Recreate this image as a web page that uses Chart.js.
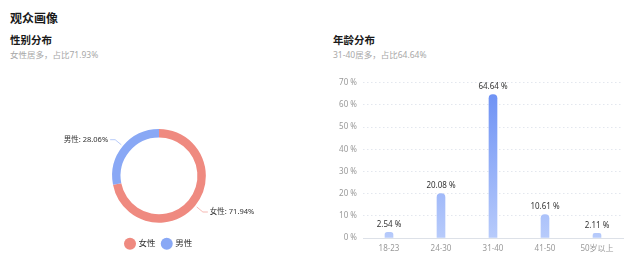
<!DOCTYPE html>
<html>
<head>
<meta charset="utf-8">
<script src="https://cdn.jsdelivr.net/npm/chart.js@4/dist/chart.umd.min.js"></script>
<style>
  body{ margin:0; width:640px; height:271px; background:#fff; overflow:hidden;
    font-family:"Noto Sans","Noto Sans CJK SC",sans-serif; position:relative }
  .t{ position:absolute; white-space:nowrap }
  .h1{ left:10px; top:9px; font-size:12px; font-weight:bold; color:#1a1a1a }
  .h2{ font-size:10.5px; font-weight:bold; color:#1a1a1a }
  .sub{ font-size:8.5px; color:#a8a8a8 }
  .box{ position:absolute }
</style>
</head>
<body>
<div class="t h1">观众画像</div>
<div class="t h2" style="left:10px;top:32px">性别分布</div>
<div class="t sub" style="left:10px;top:48px">女性居多，占比71.93%</div>
<div class="t h2" style="left:333px;top:32px">年龄分布</div>
<div class="t sub" style="left:333px;top:48px">31-40居多，占比64.64%</div>

<div class="box" style="left:0;top:115px;width:320px;height:152px"><canvas id="genderChart"></canvas></div>
<div class="box" style="left:320px;top:72px;width:320px;height:190px"><canvas id="ageChart"></canvas></div>

<script>
/* =========================
   DATA
========================= */
const genderLabels = ["女性", "男性"]
const genderValues = [71.94, 28.06]
const genderColors = ["#ef8a80", "#89a8f5"]

const ageLabels = ["18-23", "24-30", "31-40", "41-50", "50岁以上"]
const ageValues = [2.54, 20.08, 64.64, 10.61, 2.11]
const ageTicks = [0, 10, 20, 30, 40, 50, 60, 70]

const FONT = '"Noto Sans","Noto Sans CJK SC",sans-serif'

/* =========================
   DONUT OUTSIDE LABELS
========================= */
const outLabels = {
  id: "outLabels",
  afterDatasetsDraw(chart){
    const ctx = chart.ctx
    const meta = chart.getDatasetMeta(0)
    meta.data.forEach((arc, i) => {
      const p = arc.getProps(["x","y","startAngle","endAngle","outerRadius"], true)
      const mid = (p.startAngle + p.endAngle) / 2
      const cos = Math.cos(mid), sin = Math.sin(mid)
      const r1 = p.outerRadius + 2
      const r2 = p.outerRadius + 10
      const x1 = p.x + cos * r1, y1 = p.y + sin * r1
      const x2 = p.x + cos * r2, y2 = p.y + sin * r2
      const right = cos >= 0
      const x3 = x2 + (right ? 5 : -5)

      ctx.save()
      ctx.strokeStyle = genderColors[i]
      ctx.globalAlpha = 0.6
      ctx.lineWidth = 1
      ctx.beginPath()
      ctx.moveTo(x1, y1)
      ctx.lineTo(x2, y2)
      ctx.lineTo(x3, y2)
      ctx.stroke()
      ctx.globalAlpha = 1
      ctx.fillStyle = "#333"
      ctx.font = "7.5px " + FONT
      ctx.textBaseline = "middle"
      ctx.textAlign = right ? "left" : "right"
      ctx.fillText(genderLabels[i] + ": " + genderValues[i].toFixed(2) + "%", x3 + (right ? 2 : -2), y2)
      ctx.restore()
    })
  }
}

new Chart(document.getElementById("genderChart"), {
  type: "doughnut",
  data: {
    labels: genderLabels,
    datasets: [{
      data: genderValues,
      backgroundColor: genderColors,
      borderWidth: 0
    }]
  },
  options: {
    responsive: true,
    maintainAspectRatio: false,
    animation: false,
    cutout: "82%",
    layout: { padding: { top: 14, bottom: 9, right: 2 } },
    plugins: {
      tooltip: { enabled: false },
      legend: {
        position: "bottom",
        // empty title only adds space above the legend row
        title: { display: true, text: " ", font: { size: 4 }, padding: { top: 5, bottom: 0 } },
        labels: {
          usePointStyle: true,
          pointStyle: "circle",
          boxWidth: 9,
          boxHeight: 9,
          padding: 7,
          color: "#333",
          font: { size: 8.5, family: FONT }
        }
      }
    }
  },
  plugins: [outLabels]
})

/* =========================
   BAR VALUE LABELS
========================= */
const barLabels = {
  id: "barLabels",
  afterDatasetsDraw(chart){
    const ctx = chart.ctx
    chart.getDatasetMeta(0).data.forEach((bar, i) => {
      ctx.save()
      ctx.fillStyle = "#333"
      ctx.font = "8px " + FONT
      ctx.textAlign = "center"
      ctx.textBaseline = "bottom"
      ctx.fillText(ageValues[i].toFixed(2) + " %", bar.x, bar.y - 4)
      ctx.restore()
    })
  }
}

function barGradient(c){
  const area = c.chart.chartArea
  if(!area) return "#7b9cf6"
  const g = c.chart.ctx.createLinearGradient(0, area.top, 0, area.bottom)
  g.addColorStop(0, "#6a8ef4")
  g.addColorStop(1, "#b7cbfb")
  return g
}

new Chart(document.getElementById("ageChart"), {
  type: "bar",
  data: {
    labels: ageLabels,
    datasets: [{
      data: ageValues,
      backgroundColor: barGradient,
      barThickness: 8,
      borderRadius: { topLeft: 4, topRight: 4 },
      borderSkipped: "bottom"
    }]
  },
  options: {
    responsive: true,
    maintainAspectRatio: false,
    animation: false,
    layout: { padding: { top: 9, right: 17 } },
    plugins: { legend: { display: false }, tooltip: { enabled: false } },
    scales: {
      x: {
        grid: { display: false, drawTicks: false },
        border: { color: "#dde1e8" },
        ticks: { color: "#999", font: { size: 8, family: FONT }, padding: 6 },
        afterFit(s){ s.height = 24 }
      },
      y: {
        min: 0,
        max: ageTicks[ageTicks.length - 1],
        afterBuildTicks(s){ s.ticks = ageTicks.map(v => ({ value: v })) },
        grid: { color: "#e3e7ee", drawTicks: false },
        border: { display: false, dash: [1.5, 2.5] },
        ticks: {
          color: "#999",
          font: { size: 8, family: FONT },
          padding: 6,
          callback: v => v + " %"
        },
        afterFit(s){ s.width = 43 }
      }
    }
  },
  plugins: [barLabels]
})
</script>
</body>
</html>
